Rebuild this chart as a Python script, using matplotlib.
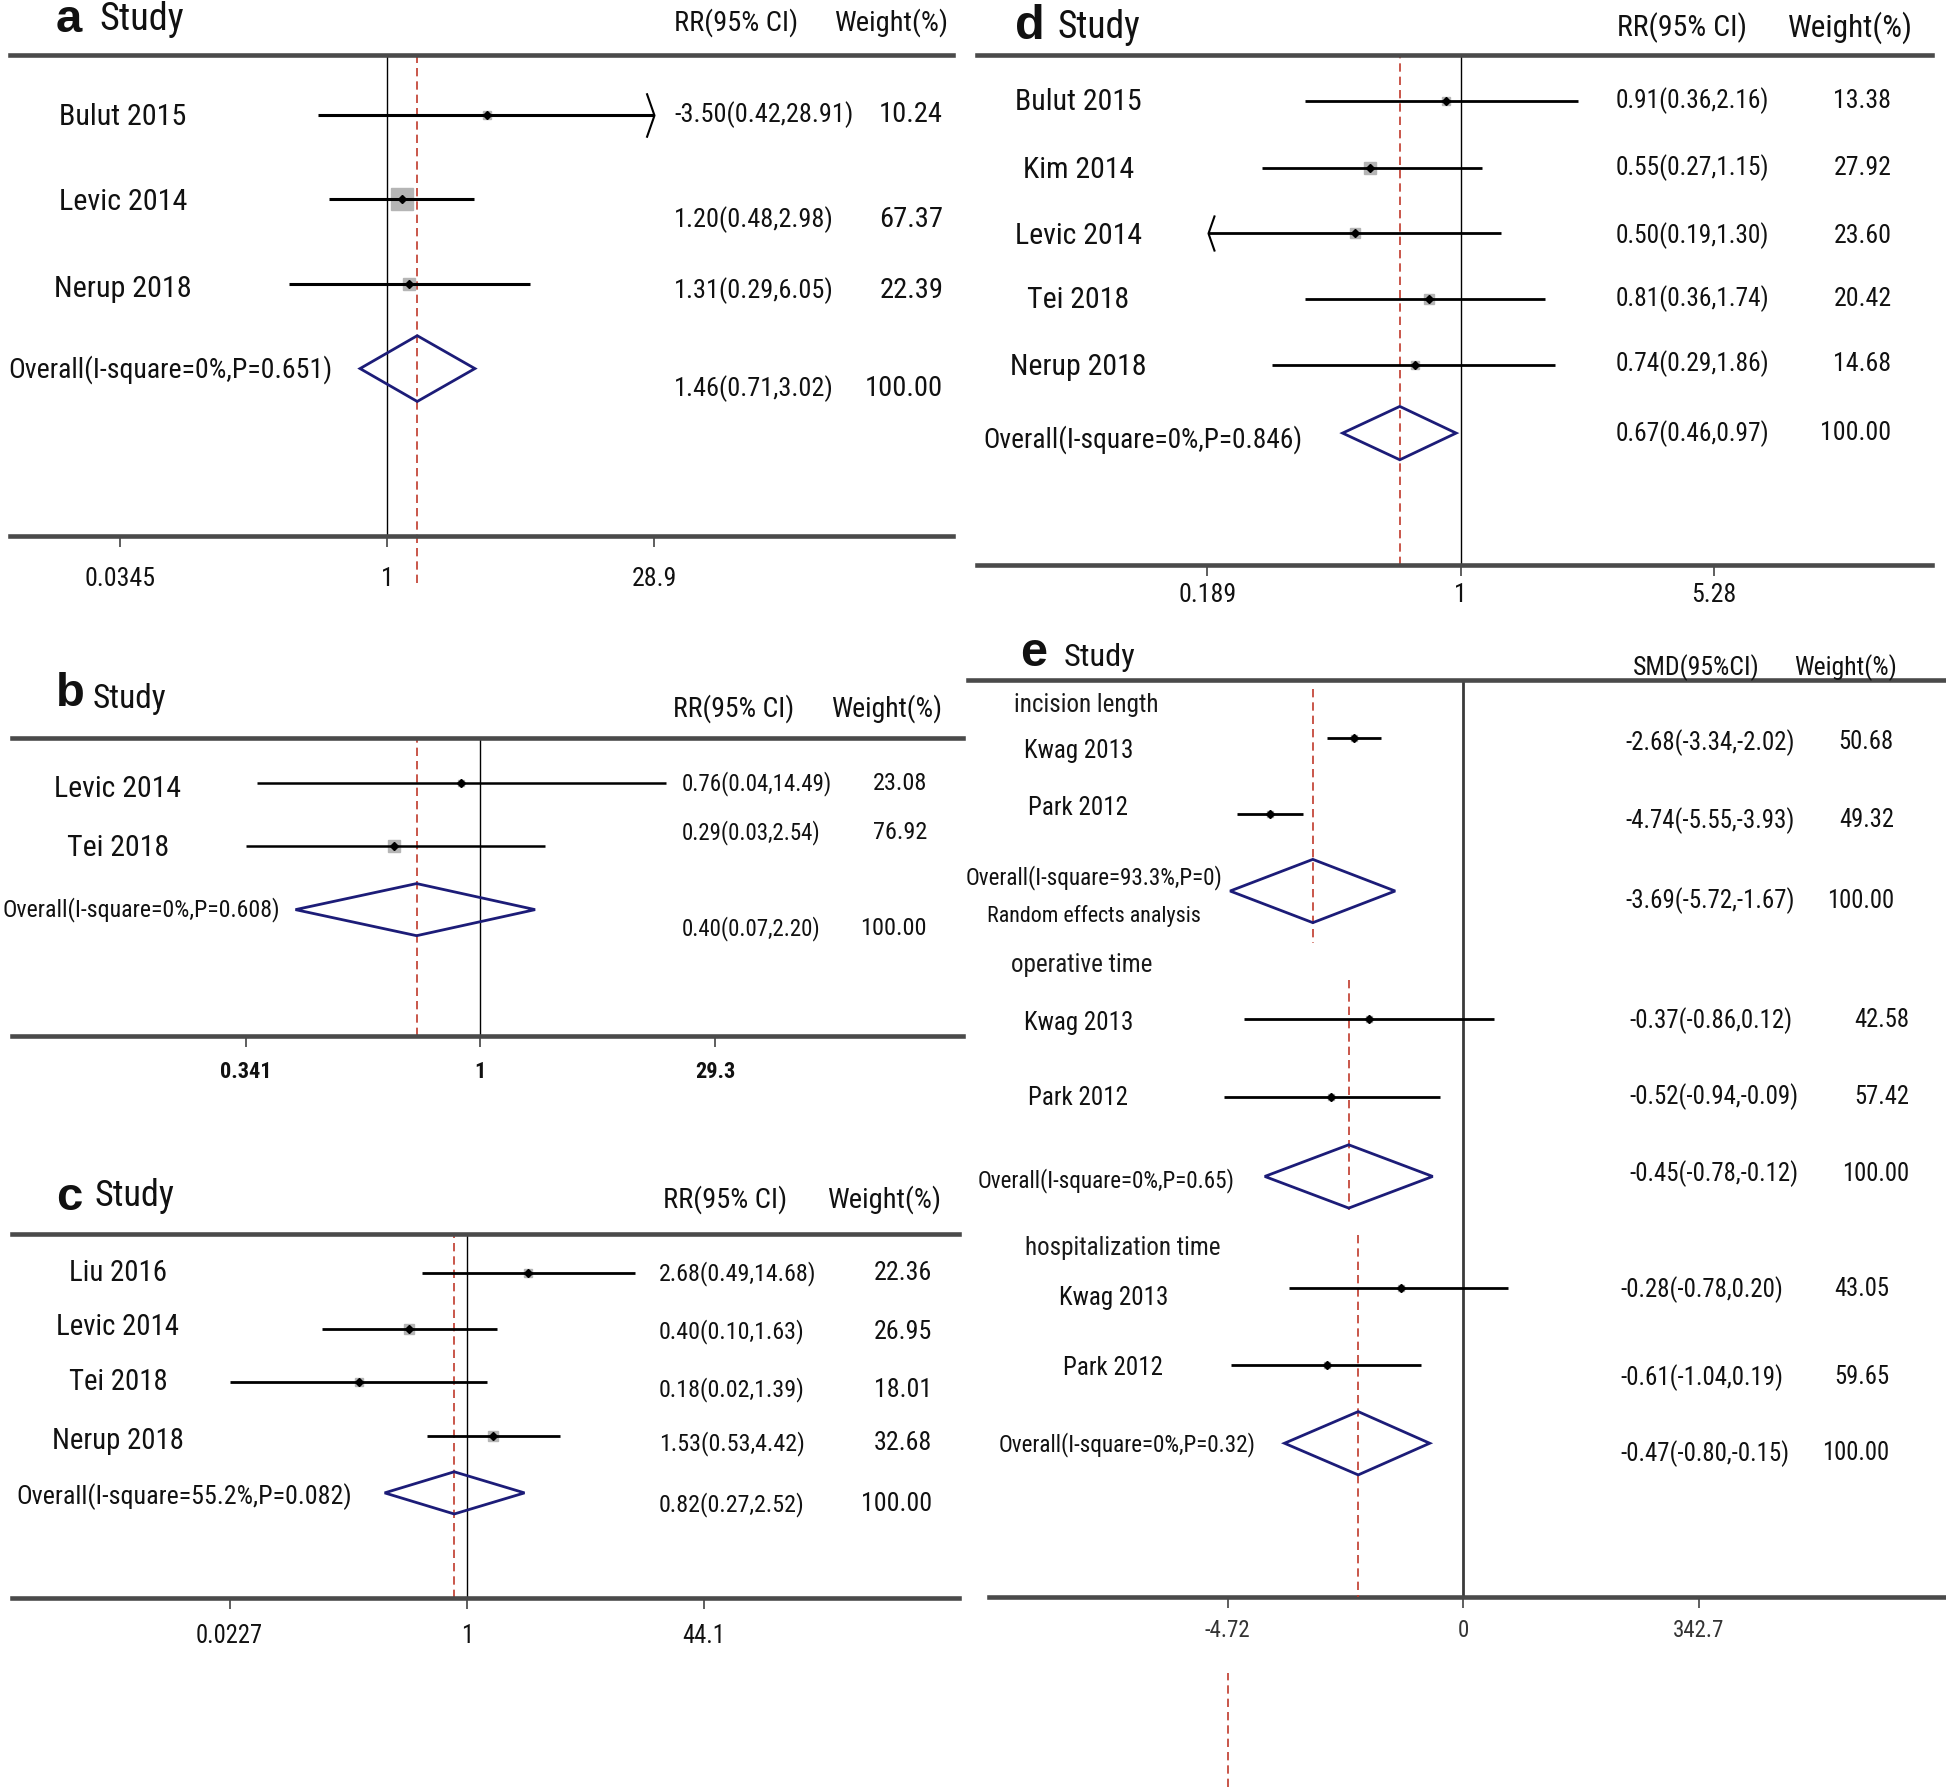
import numpy as np
import matplotlib
matplotlib.use("Agg")
import matplotlib.pyplot as plt
from matplotlib import font_manager
from matplotlib.patches import Polygon
from matplotlib.path import Path
from matplotlib.ticker import NullLocator

# ---------------- data ----------------
# panel a
a_study = ['Bulut 2015', 'Levic 2014', 'Nerup 2018']
a_est = [3.50, 1.20, 1.31]
a_lo = [0.42, 0.48, 0.29]
a_hi = [28.91, 2.98, 6.05]
a_weight = [10.24, 67.37, 22.39]
a_overall = [1.46, 0.71, 3.02]
a_overall_label = 'Overall(I-square=0%,P=0.651)'
a_ci_text = ['-3.50(0.42,28.91)', '1.20(0.48,2.98)', '1.31(0.29,6.05)', '1.46(0.71,3.02)']
a_ticks = [0.0345, 1, 28.9]
a_ticklabels = ['0.0345', '1', '28.9']

# panel b
b_study = ['Levic 2014', 'Tei 2018']
b_est = [0.76, 0.29]
b_lo = [0.04, 0.03]
b_hi = [14.49, 2.54]
b_weight = [23.08, 76.92]
b_overall = [0.40, 0.07, 2.20]
b_overall_label = 'Overall(I-square=0%,P=0.608)'
b_ci_text = ['0.76(0.04,14.49)', '0.29(0.03,2.54)', '0.40(0.07,2.20)']
b_ticks = [1 / 29.3, 1, 29.3]
b_ticklabels = ['0.341', '1', '29.3']

# panel c
c_study = ['Liu 2016', 'Levic 2014', 'Tei 2018', 'Nerup 2018']
c_est = [2.68, 0.40, 0.18, 1.53]
c_lo = [0.49, 0.10, 0.02, 0.53]
c_hi = [14.68, 1.63, 1.39, 4.42]
c_weight = [22.36, 26.95, 18.01, 32.68]
c_overall = [0.82, 0.27, 2.52]
c_overall_label = 'Overall(I-square=55.2%,P=0.082)'
c_ci_text = ['2.68(0.49,14.68)', '0.40(0.10,1.63)', '0.18(0.02,1.39)', '1.53(0.53,4.42)', '0.82(0.27,2.52)']
c_ticks = [0.0227, 1, 44.1]
c_ticklabels = ['0.0227', '1', '44.1']

# panel d
d_study = ['Bulut 2015', 'Kim 2014', 'Levic 2014', 'Tei 2018', 'Nerup 2018']
d_est = [0.91, 0.55, 0.50, 0.81, 0.74]
d_lo = [0.36, 0.27, 0.19, 0.36, 0.29]
d_hi = [2.16, 1.15, 1.30, 1.74, 1.86]
d_weight = [13.38, 27.92, 23.60, 20.42, 14.68]
d_overall = [0.67, 0.46, 0.97]
d_overall_label = 'Overall(I-square=0%,P=0.846)'
d_ci_text = ['0.91(0.36,2.16)', '0.55(0.27,1.15)', '0.50(0.19,1.30)', '0.81(0.36,1.74)',
             '0.74(0.29,1.86)', '0.67(0.46,0.97)']
d_ticks = [0.189, 1, 5.28]
d_ticklabels = ['0.189', '1', '5.28']

# panel e (three subgroups, SMD)
e_groups = ['incision length', 'operative time', 'hospitalization time']
e_study = ['Kwag 2013', 'Park 2012']
e_est = [[-2.68, -4.74], [-0.37, -0.52], [-0.28, -0.61]]
e_lo = [[-3.34, -5.55], [-0.86, -0.94], [-0.78, -1.04]]
e_hi = [[-2.02, -3.93], [0.12, -0.09], [0.20, -0.19]]
e_weight = [[50.68, 49.32], [42.58, 57.42], [43.05, 59.65]]
e_overall = [[-3.69, -5.72, -1.67], [-0.45, -0.78, -0.12], [-0.47, -0.80, -0.15]]
e_overall_label = ['Overall(I-square=93.3%,P=0)', 'Overall(I-square=0%,P=0.65)', 'Overall(I-square=0%,P=0.32)']
e_ci_text = [['-2.68(-3.34,-2.02)', '-4.74(-5.55,-3.93)', '-3.69(-5.72,-1.67)'],
             ['-0.37(-0.86,0.12)', '-0.52(-0.94,-0.09)', '-0.45(-0.78,-0.12)'],
             ['-0.28(-0.78,0.20)', '-0.61(-1.04,0.19)', '-0.47(-0.80,-0.15)']]
e_ticks = [-4.72, 0, 4.72]
e_ticklabels = ['-4.72', '0', '342.7']

# ---------------- style ----------------
avail = {f.name for f in font_manager.fontManager.ttflist}
NARROW = next((f for f in ['Liberation Sans Narrow', 'Roboto Condensed', 'Open Sans Condensed']
               if f in avail), 'Noto Sans CJK SC')
BOLD = 'Liberation Sans' if 'Liberation Sans' in avail else 'DejaVu Sans'
INK = '#111111'
RED = '#c0392b'
LINE = '#4a4a4a'
GREY = '#b5b5b5'
NAVY = '#1c1c78'
DASH = (0, (5, 3))

CHEV_R = Path([(-0.35, 1), (0, 0), (-0.35, -1)], [Path.MOVETO, Path.LINETO, Path.LINETO])
CHEV_L = Path([(0.35, 1), (0, 0), (0.35, -1)], [Path.MOVETO, Path.LINETO, Path.LINETO])

W, H = 1568, 1440  # layout units of the composite
fig = plt.figure(figsize=(19.46, 17.87), dpi=100)
fig.patch.set_facecolor('white')


def put(x, y, s, size, ha='left', va='center', family=None, **kw):
    fig.text(x / W, 1 - y / H, s, fontsize=size, ha=ha, va=va,
             fontfamily=family or NARROW, color=kw.pop('color', INK), **kw)


def add_box(box):
    l, t, r, b = box
    ax = fig.add_axes([l / W, 1 - b / H, (r - l) / W, (b - t) / H])
    ax.set_ylim(b, t)
    ax.patch.set_alpha(0)
    return ax


def frame(ax, ticks, labels, L):
    for s in ['left', 'right']:
        ax.spines[s].set_visible(False)
    for s in ['top', 'bottom']:
        ax.spines[s].set_color(LINE)
        ax.spines[s].set_linewidth(3.3)
    ax.set_yticks([])
    ax.set_xticks(ticks)
    ax.xaxis.set_minor_locator(NullLocator())
    ax.set_xticklabels(labels, fontfamily=NARROW, fontsize=L['tick_fs'],
                       fontweight=L.get('tick_w', 'normal'), color=L.get('tick_c', INK))
    ax.tick_params(axis='x', direction='out', length=8, width=1.1, color='#333333', pad=L['tick_pad'])


def diamond(ax, ov, y, h):
    ax.add_patch(Polygon([(ov[1], y), (ov[0], y - h), (ov[2], y), (ov[0], y + h)], closed=True,
                         facecolor='none', edgecolor=NAVY, lw=2.0, zorder=5))


def study_row(ax, est, lo, hi, w, y, k, lw, arrow=None, ams=30, clip=None):
    x0, x1 = lo, hi
    if clip:
        x0, x1 = max(lo, clip[0]), min(hi, clip[1])
    ax.plot(est, y, marker='s', ms=k * np.sqrt(w), color=GREY, zorder=2)
    ax.plot([x0, x1], [y, y], color='black', lw=lw, solid_capstyle='butt', zorder=3)
    ax.plot(est, y, marker='D', ms=4, color='black', zorder=4)
    if arrow == 'right':
        ax.plot(x1, y, marker=CHEV_R, ms=ams, mfc='none', mec='black', mew=1.5, zorder=3)
    elif arrow == 'left':
        ax.plot(x0, y, marker=CHEV_L, ms=ams, mfc='none', mec='black', mew=1.5, zorder=3)


def log_panel(L, study, est, lo, hi, weight, overall, ov_label, ci_text, ticks, ticklabels, arrows):
    l, t, r, b = L['box']
    ax = add_box(L['box'])
    ax.set_xscale('log')
    ax.set_xlim(np.exp((l - L['one']) / L['scale']), np.exp((r - L['one']) / L['scale']))
    frame(ax, ticks, ticklabels, L)
    ax.axvline(1, color='black', lw=1.0, zorder=1)
    ext = -(L['dash_end'] - b) / (b - t)
    ax.axvline(overall[0], ymin=ext, ymax=1, color=RED, lw=1.2, ls=DASH, clip_on=False, zorder=1)
    for i in range(len(study)):
        study_row(ax, est[i], lo[i], hi[i], weight[i], L['rows'][i], L['box_k'], L['lw'],
                  arrows[i], L.get('arrow_ms', 30), clip=(min(ticks), max(ticks)))
        put(L['name_x'], L['name_y'][i], study[i], L['name_fs'], ha='center')
    diamond(ax, overall, L['ov_y'], L['ov_h'])
    put(L['ov_x'], L['ov_ly'], ov_label, L['ov_fs'])
    wtxt = ['%.2f' % v for v in weight] + ['100.00']
    for i, s in enumerate(ci_text):
        put(L['txt_x'], L['txt_y'][i], s, L['txt_fs'])
        put(L['w_x'], L['txt_y'][i], wtxt[i], L['w_fs'], ha='right')
    lt, lx, ly, lfs = L['letter']
    put(lx, ly, lt, lfs, family=BOLD, fontweight='bold')
    sx, sy, sfs = L['study']
    put(sx, sy, 'Study', sfs)
    put(L['rr_x'], L['hdr_y'], 'RR(95% CI)', L['hdr_fs'])
    put(L['wt_x'], L['hdr_y'], 'Weight(%)', L.get('wt_fs', L['hdr_fs']))
    return ax


LA = dict(box=(8, 44, 768, 432), one=312, scale=63.92, rows=[93, 160, 229], ov_y=297, ov_h=26.5,
          name_x=99, name_y=[94, 163, 233], name_fs=21.7, ov_x=7, ov_ly=298, ov_fs=20.1,
          txt_x=543, w_x=760, txt_y=[92, 177, 234, 313], txt_fs=18.9, w_fs=20.5,
          hdr_y=18, rr_x=543, wt_x=672, hdr_fs=20.5, letter=('a', 45, 16, 34), study=(80, 16, 27.5),
          tick_fs=18.6, tick_pad=14, box_k=1.85, lw=2.2, arrow_ms=32, dash_end=470)
LB = dict(box=(10, 595, 776, 835), one=387, scale=56, rows=[631, 682], ov_y=733, ov_h=21,
          name_x=95, name_y=[636, 683], name_fs=21.5, ov_x=2, ov_ly=733, ov_fs=17.2,
          txt_x=549, w_x=747, txt_y=[631, 671, 748], txt_fs=16.5, w_fs=17.5,
          hdr_y=571, rr_x=542, wt_x=670, hdr_fs=20, letter=('b', 45, 559, 34), study=(75, 563, 24),
          tick_fs=16, tick_w='bold', tick_pad=10, box_k=1.0, lw=1.8, dash_end=835)
LC = dict(box=(10, 994, 773, 1288), one=376, scale=50.45, rows=[1026, 1071, 1114, 1157], ov_y=1203,
          ov_h=17, name_x=95, name_y=[1026, 1069, 1114, 1161], name_fs=20.7, ov_x=13, ov_ly=1206,
          ov_fs=18.7, txt_x=531, w_x=751, txt_y=[1026, 1073, 1120, 1163, 1212], txt_fs=17.3, w_fs=18.7,
          hdr_y=967, rr_x=534, wt_x=666, hdr_fs=20.5, letter=('c', 45, 965, 34), study=(76, 964, 26),
          tick_fs=17.7, tick_pad=10.5, box_k=1.3, lw=2.0, dash_end=1288)
LD = dict(box=(787, 44, 1557, 455), one=1177, scale=122.6, rows=[81, 135, 188, 241, 294], ov_y=349,
          ov_h=21.5, name_x=869, name_y=[82, 137, 190, 242, 296], name_fs=21.5, ov_x=792, ov_ly=354,
          ov_fs=19.7, txt_x=1302, w_x=1524, txt_y=[81, 135, 190, 241, 293, 349], txt_fs=18.3, w_fs=18.6,
          hdr_y=22, rr_x=1303, wt_x=1441, hdr_fs=21.5, wt_fs=22.5, letter=('d', 818, 21, 35),
          study=(852, 22, 27), tick_fs=18.6, tick_pad=5, box_k=1.5, lw=2.0, arrow_ms=26, dash_end=455)

log_panel(LA, a_study, a_est, a_lo, a_hi, a_weight, a_overall, a_overall_label, a_ci_text,
          a_ticks, a_ticklabels, ['right', None, None])
log_panel(LB, b_study, b_est, b_lo, b_hi, b_weight, b_overall, b_overall_label, b_ci_text,
          b_ticks, b_ticklabels, [None, None])
log_panel(LC, c_study, c_est, c_lo, c_hi, c_weight, c_overall, c_overall_label, c_ci_text,
          c_ticks, c_ticklabels, [None, None, None, None])
log_panel(LD, d_study, d_est, d_lo, d_hi, d_weight, d_overall, d_overall_label, d_ci_text,
          d_ticks, d_ticklabels, [None, None, 'left', None, None])

# ---------------- panel e ----------------
E = dict(box=(780, 548, 1568, 1287), zero=1179, scale=40.2, sub_scale=[32.84, 205, 180],
         rows=[[595, 656], [821, 884], [1038, 1100]], ov_y=[718, 948, 1163], ov_h=25.5,
         name_x=[869, 869, 897], name_y=[[605, 651], [824, 885], [1046, 1102]],
         ov_x=[778, 788, 805], ov_ly=[707, 951, 1164], grp_x=[817, 815, 826], grp_y=[568, 778, 1006],
         txt_x=[1310, 1313, 1306], w_x=[1526, 1538, 1522],
         txt_y=[[598, 661, 726], [822, 884, 946], [1039, 1110, 1171]],
         dash_y=[(555, 760), (790, 975), (995, 1287)],
         tick_fs=16.5, tick_pad=7.5, tick_c='#333333')
l, t, r, b = E['box']
ax = add_box(E['box'])
ax.set_xlim((l - E['zero']) / E['scale'], (r - E['zero']) / E['scale'])
frame(ax, e_ticks, e_ticklabels, E)
ax.spines['bottom'].set_visible(False)
ax.axhline(b, xmin=(797 - l) / (r - l), xmax=1, color=LINE, lw=3.3, clip_on=False)
ax.axvline(0, color='#3a3a3a', lw=2.0, zorder=1)
ax.axvline(e_ticks[0], ymin=-(1440 - b) / (b - t), ymax=-(1348 - b) / (b - t), color=RED, lw=1.2,
           ls=DASH, clip_on=False)

for g in range(3):
    sub = add_box(E['box'])
    sub.axis('off')
    s = E['sub_scale'][g]
    sub.set_xlim((l - E['zero']) / s, (r - E['zero']) / s)
    sub.plot([e_overall[g][0]] * 2, E['dash_y'][g], color=RED, lw=1.2, ls=DASH, zorder=1)
    for i in range(2):
        study_row(sub, e_est[g][i], e_lo[g][i], e_hi[g][i], e_weight[g][i], E['rows'][g][i], 0.6, 2.0)
        put(E['name_x'][g], E['name_y'][g][i], e_study[i], 18, ha='center')
    diamond(sub, e_overall[g], E['ov_y'][g], E['ov_h'])
    put(E['grp_x'][g], E['grp_y'][g], e_groups[g], 18.1, color='#1a1a1a')
    put(E['ov_x'][g], E['ov_ly'][g], e_overall_label[g], 16.7)
    wtxt = ['%.2f' % v for v in e_weight[g]] + ['100.00']
    for i in range(3):
        put(E['txt_x'][g], E['txt_y'][g][i], e_ci_text[g][i], 17.9)
        put(E['w_x'][g], E['txt_y'][g][i], wtxt[i], 17.7, ha='right')
put(795, 738, 'Random effects analysis', 15.8)
put(822, 527, 'e', 35, family=BOLD, fontweight='bold')
put(857, 530, 'Study', 23.4)
put(1316, 538, 'SMD(95%CI)', 18.5)
put(1446, 538, 'Weight(%)', 18.5)

fig.savefig('out.png', dpi=100, facecolor='white')
